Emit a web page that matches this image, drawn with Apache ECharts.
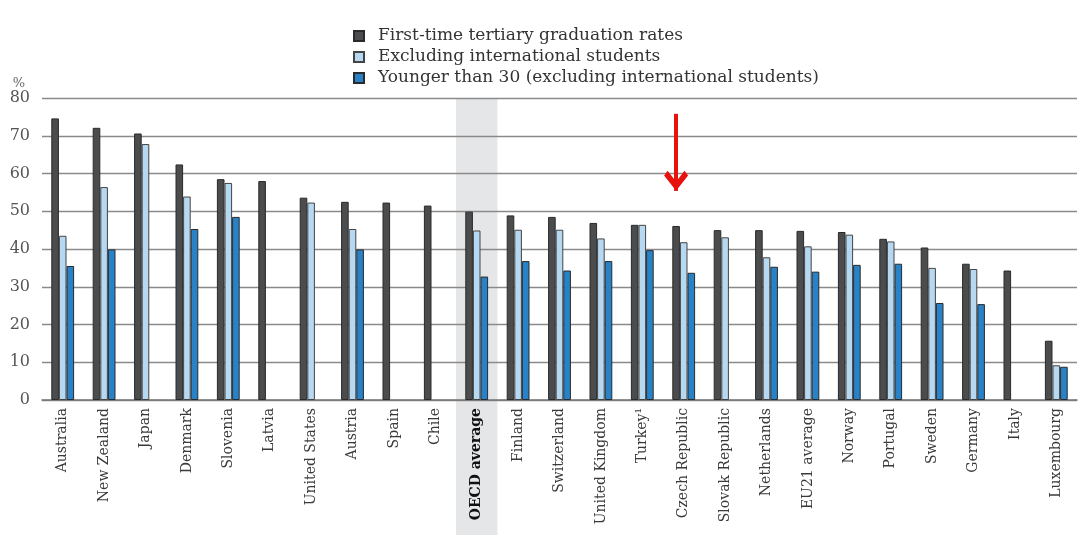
<html>
<head>
<meta charset="utf-8">
<script src="https://cdn.jsdelivr.net/npm/echarts@6/dist/echarts.min.js"></script>
<style>
    body { margin: 0; padding: 0; background: #fff; }
    #content { width: 1080px; height: 535px; }
</style>
</head>
<body>
<div id="content"></div>
<script type="text/javascript">
    var countries = ['Australia', 'New Zealand', 'Japan', 'Denmark', 'Slovenia', 'Latvia', 'United States',
        'Austria', 'Spain', 'Chile', 'OECD average', 'Finland', 'Switzerland', 'United Kingdom', 'Turkey\u00b9',
        'Czech Republic', 'Slovak Republic', 'Netherlands', 'EU21 average', 'Norway', 'Portugal', 'Sweden',
        'Germany', 'Italy', 'Luxembourg'];
    var firstTime = [74.6, 72.1, 70.6, 62.4, 58.5, 58.0, 53.6, 52.5, 52.3, 51.5, 49.9, 48.9, 48.5, 46.9, 46.4,
        46.1, 45.0, 45.0, 44.8, 44.5, 42.7, 40.4, 36.1, 34.3, 15.7];
    var exclIntl = [43.5, 56.4, 67.8, 53.9, 57.5, null, 52.3, 45.3, null, null, 44.9, 45.1, 45.1, 42.8, 46.4,
        41.8, 43.1, 37.8, 40.7, 43.8, 42.0, 35.0, 34.7, null, 9.2];
    var under30 = [35.5, 39.9, null, 45.3, 48.5, null, null, 39.9, null, null, 32.7, 36.8, 34.3, 36.8, 39.7,
        33.7, null, 35.3, 34.0, 35.8, 36.1, 25.7, 25.4, null, 8.8];
    var seriesNames = ['First-time tertiary graduation rates', 'Excluding international students',
        'Younger than 30 (excluding international students)'];
    var yTicks = [0, 10, 20, 30, 40, 50, 60, 70, 80];
    // red arrow above Czech Republic (value range on the y axis)
    var arrowCategory = 'Czech Republic';
    var arrowFrom = 75.8;
    var arrowTo = 55.4;

    var font = 'DejaVu Serif';
    var chart = echarts.init(document.getElementById('content'));

    const option = {
        animation: false,
        textStyle: { fontFamily: font },
        legend: {
            orient: 'vertical',
            left: 348,
            top: 22,
            icon: 'rect',
            itemWidth: 10,
            itemHeight: 10,
            itemGap: 3,
            data: seriesNames,
            textStyle: { fontFamily: font, fontSize: 17, color: '#333', lineHeight: 18, padding: [0, 0, 0, 9] }
        },
        grid: {
            left: 42,
            right: 3,
            top: 98,
            bottom: 135
        },
        xAxis: {
            type: 'category',
            data: countries,
            axisTick: { show: false },
            axisLine: { lineStyle: { color: '#777', width: 1.5 } },
            axisLabel: {
                rotate: 90,
                margin: 8,
                interval: 0,
                fontFamily: font,
                fontSize: 14,
                color: '#3a3a3a',
                formatter: function (v) {
                    return v === 'OECD average' ? '{b|' + v + '}' : v;
                },
                rich: {
                    b: { fontFamily: font, fontSize: 14, fontWeight: 'bold', color: '#111' }
                }
            }
        },
        yAxis: {
            type: 'value',
            min: yTicks[0],
            max: yTicks[yTicks.length - 1],
            interval: 10,
            name: '%',
            nameLocation: 'end',
            nameGap: 8,
            nameTextStyle: { fontFamily: font, fontSize: 13, color: '#666', align: 'right', padding: [0, 17, 0, 0] },
            axisLine: { show: false },
            axisTick: { show: false },
            axisLabel: { fontFamily: font, fontSize: 16, color: '#555', margin: 12 },
            splitLine: { lineStyle: { color: '#8a8a8a', width: 1.3 } }
        },
        series: [{
            name: seriesNames[0],
            type: 'bar',
            data: firstTime,
            barGap: 0,
            barWidth: 7.6,
            itemStyle: { color: '#4b4c4e', borderColor: '#2a2a2a', borderWidth: 1 },
            markLine: {
                silent: true,
                symbol: ['none', 'path://M10,0 L20,10 L17,13 L10,6 L3,13 L0,10 Z M10,-13 L10.01,-13 Z'],
                symbolSize: [24, 40],
                lineStyle: { color: '#e8110c', width: 4, type: 'solid' },
                itemStyle: { color: '#e8110c' },
                label: { show: false },
                data: [[{ coord: [arrowCategory, arrowFrom] }, { coord: [arrowCategory, arrowTo] }]]
            }
        }, {
            name: seriesNames[1],
            type: 'bar',
            data: exclIntl,
            barWidth: 7.6,
            itemStyle: { color: '#b6d8f1', borderColor: '#444', borderWidth: 1 }
        }, {
            name: seriesNames[2],
            type: 'bar',
            data: under30,
            barWidth: 7.6,
            itemStyle: { color: '#2882c7', borderColor: '#2a2a2a', borderWidth: 1 }
        }]
    };
    chart.setOption(option);

    // grey band behind the OECD average column, down through the labels
    var cx = chart.convertToPixel({ xAxisIndex: 0 }, 'OECD average');
    var nx = chart.convertToPixel({ xAxisIndex: 0 }, 'Finland');
    var bw = nx - cx;
    var topY = chart.convertToPixel({ yAxisIndex: 0 }, yTicks[yTicks.length - 1]);
    chart.setOption({
        graphic: [{
            type: 'rect',
            z: -10,
            silent: true,
            shape: { x: cx - bw / 2, y: topY, width: bw, height: chart.getHeight() - topY },
            style: { fill: '#e5e6e8' }
        }]
    });
</script>
</body>
</html>
